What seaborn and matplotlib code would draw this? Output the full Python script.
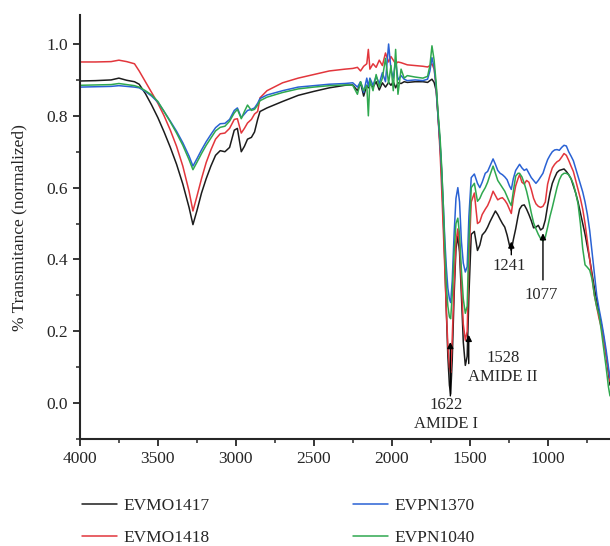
import pandas as pd
import seaborn as sns
import matplotlib
matplotlib.use("Agg")
import matplotlib.pyplot as plt
from matplotlib.ticker import MultipleLocator

# wavenumbers (cm-1), shared by all four spectra
wavenumber = [
    4000, 3900, 3800, 3750, 3700, 3650, 3620, 3580, 3540, 3500, 3460, 3420, 3380, 3340, 3300, 3275,
    3250, 3220, 3190, 3160, 3130, 3100, 3070, 3040, 3010, 2990, 2965, 2945, 2925, 2900, 2880, 2860,
    2845, 2800, 2700, 2600, 2500, 2400, 2300,
    2250, 2220, 2200, 2180, 2160, 2150, 2140, 2120, 2100, 2080, 2060, 2040, 2020, 2005, 1990, 1975,
    1960, 1940, 1920, 1900, 1850, 1800,
    1770, 1755, 1742, 1728, 1715, 1703, 1690, 1680, 1670, 1660, 1650, 1640, 1630, 1622, 1612, 1600,
    1588, 1576, 1565, 1553, 1541, 1528, 1516, 1505,
    1490, 1470, 1450, 1435, 1420, 1400, 1385, 1370, 1350, 1335, 1320, 1305, 1290, 1275, 1260, 1245,
    1233, 1220, 1205, 1190, 1180, 1165, 1150, 1135, 1120, 1105, 1090, 1075, 1060, 1045, 1030, 1015,
    1000, 985, 970, 955, 940, 925, 910, 895, 880, 865, 850, 835, 820, 805, 790, 775, 760, 745, 730,
    715, 700, 685, 670, 655, 640, 625, 610, 600,
]

evmo1417 = [
    0.897, 0.898, 0.900, 0.905, 0.899, 0.895, 0.888, 0.862, 0.830, 0.795, 0.755, 0.712, 0.665, 0.610, 0.545, 0.497,
    0.535, 0.585, 0.625, 0.660, 0.690, 0.703, 0.700, 0.712, 0.760, 0.765, 0.700, 0.715, 0.735, 0.740, 0.755, 0.790,
    0.812, 0.822, 0.840, 0.857, 0.868, 0.878, 0.885,
    0.886, 0.870, 0.892, 0.855, 0.885, 0.878, 0.890, 0.880, 0.895, 0.872, 0.892, 0.880, 0.893, 0.885, 0.895, 0.878,
    0.892, 0.890, 0.895, 0.893, 0.895, 0.895,
    0.893, 0.898, 0.902, 0.893, 0.870, 0.800, 0.720, 0.640, 0.530, 0.400, 0.260, 0.130, 0.050, 0.025, 0.120, 0.300,
    0.430, 0.465, 0.420, 0.300, 0.170, 0.105, 0.130, 0.300,
    0.470, 0.478, 0.425, 0.440, 0.468, 0.478, 0.490, 0.505, 0.522, 0.535, 0.525, 0.512, 0.500, 0.490, 0.468, 0.440,
    0.425, 0.455, 0.485, 0.520, 0.540, 0.550, 0.552, 0.540, 0.525, 0.508, 0.488, 0.490, 0.495, 0.482, 0.487, 0.510,
    0.550, 0.585, 0.612, 0.628, 0.642, 0.648, 0.650, 0.652, 0.645, 0.636, 0.625, 0.605, 0.585, 0.560, 0.530, 0.500,
    0.470, 0.435, 0.400, 0.360, 0.320, 0.285, 0.250, 0.218, 0.180, 0.135, 0.085, 0.050,
]

evmo1418 = [
    0.950, 0.950, 0.951, 0.955, 0.951, 0.945, 0.925, 0.895, 0.865, 0.835, 0.800, 0.760, 0.715, 0.660, 0.590, 0.535,
    0.575, 0.625, 0.670, 0.705, 0.735, 0.750, 0.752, 0.765, 0.790, 0.792, 0.752, 0.765, 0.780, 0.790, 0.805, 0.812,
    0.850, 0.870, 0.892, 0.905, 0.915, 0.925, 0.930,
    0.932, 0.935, 0.925, 0.938, 0.945, 0.985, 0.930, 0.945, 0.935, 0.955, 0.940, 0.975, 0.950, 0.965, 0.955, 0.945,
    0.950, 0.948, 0.945, 0.942, 0.940, 0.938,
    0.936, 0.940, 0.945, 0.930, 0.880, 0.800, 0.700, 0.600, 0.490, 0.380, 0.260, 0.160, 0.100, 0.085, 0.180, 0.330,
    0.450, 0.485, 0.440, 0.330, 0.220, 0.175, 0.200, 0.400,
    0.560, 0.585, 0.500, 0.505, 0.525, 0.540, 0.550, 0.565, 0.590, 0.578, 0.566, 0.570, 0.572, 0.565, 0.555, 0.540,
    0.528, 0.570, 0.605, 0.625, 0.636, 0.615, 0.610, 0.620, 0.615, 0.595, 0.570, 0.555, 0.548, 0.545, 0.548, 0.560,
    0.610, 0.635, 0.655, 0.665, 0.672, 0.676, 0.685, 0.695, 0.690, 0.676, 0.660, 0.645, 0.620, 0.595, 0.570, 0.540,
    0.500, 0.450, 0.400, 0.350, 0.300, 0.268, 0.235, 0.210, 0.175, 0.135, 0.090, 0.060,
]

evpn1370 = [
    0.880, 0.881, 0.882, 0.884, 0.882, 0.880, 0.878, 0.868, 0.855, 0.838, 0.812, 0.785, 0.757, 0.725, 0.688, 0.660,
    0.680, 0.705, 0.728, 0.748, 0.767, 0.778, 0.779, 0.790, 0.815, 0.822, 0.795, 0.805, 0.815, 0.818, 0.822, 0.835,
    0.848, 0.858, 0.870, 0.880, 0.884, 0.888, 0.890,
    0.892, 0.880, 0.895, 0.865, 0.905, 0.882, 0.905, 0.885, 0.910, 0.890, 0.920, 0.895, 1.000, 0.930, 0.905, 0.955,
    0.900, 0.912, 0.902, 0.898, 0.900, 0.898,
    0.902, 0.925, 0.962, 0.935, 0.880, 0.800, 0.725, 0.650, 0.560, 0.460, 0.380, 0.320, 0.290, 0.280, 0.340, 0.470,
    0.570, 0.600, 0.560, 0.450, 0.390, 0.365, 0.380, 0.520,
    0.628, 0.638, 0.612, 0.600, 0.615, 0.640, 0.645, 0.660, 0.680, 0.665, 0.648, 0.640, 0.636, 0.630, 0.622, 0.605,
    0.595, 0.625, 0.648, 0.658, 0.665, 0.655, 0.648, 0.652, 0.640, 0.628, 0.620, 0.612, 0.620, 0.630, 0.640, 0.660,
    0.678, 0.690, 0.700, 0.705, 0.706, 0.704, 0.712, 0.718, 0.716, 0.700, 0.688, 0.675, 0.655, 0.632, 0.610, 0.588,
    0.560, 0.525, 0.480, 0.420, 0.360, 0.300, 0.262, 0.228, 0.190, 0.148, 0.100, 0.070,
]

evpn1040 = [
    0.885, 0.886, 0.887, 0.890, 0.887, 0.884, 0.880, 0.870, 0.858, 0.840, 0.812, 0.783, 0.752, 0.718, 0.678, 0.650,
    0.670, 0.695, 0.718, 0.738, 0.758, 0.768, 0.771, 0.785, 0.808, 0.818, 0.792, 0.812, 0.830, 0.815, 0.818, 0.830,
    0.842, 0.852, 0.865, 0.875, 0.880, 0.884, 0.886,
    0.885, 0.860, 0.895, 0.870, 0.885, 0.800, 0.900, 0.870, 0.915, 0.880, 0.905, 0.960, 0.890, 0.940, 0.870, 0.985,
    0.860, 0.930, 0.905, 0.912, 0.908, 0.905,
    0.910, 0.940, 0.995, 0.955, 0.890, 0.810, 0.740, 0.660, 0.560, 0.440, 0.330, 0.270, 0.240, 0.235, 0.300, 0.420,
    0.500, 0.515, 0.470, 0.370, 0.290, 0.250, 0.270, 0.450,
    0.600, 0.612, 0.562, 0.570, 0.585, 0.600, 0.615, 0.635, 0.660, 0.640, 0.620, 0.610, 0.600, 0.590, 0.575, 0.560,
    0.550, 0.590, 0.632, 0.640, 0.640, 0.630, 0.612, 0.590, 0.562, 0.530, 0.502, 0.485, 0.470, 0.458, 0.452, 0.462,
    0.490, 0.520, 0.545, 0.572, 0.600, 0.622, 0.635, 0.640, 0.640, 0.636, 0.625, 0.610, 0.585, 0.555, 0.500, 0.430,
    0.385, 0.378, 0.370, 0.345, 0.300, 0.268, 0.245, 0.200, 0.150, 0.100, 0.045, 0.020,
]

samples = ["EVMO1417", "EVMO1418", "EVPN1370", "EVPN1040"]
colors = ["#1c1c1c", "#e2363c", "#2a62d4", "#2fa84f"]

# peak markers: label, arrow x, arrow tail y, arrow tip y
peaks = [
    ("1622\nAMIDE I", 1624, 0.02, 0.17),
    ("1528\nAMIDE II", 1506, 0.11, 0.19),
    ("1241", 1233, 0.413, 0.45),
    ("1077", 1030, 0.343, 0.473),
]

frames = []
for name, vals in zip(samples, [evmo1417, evmo1418, evpn1370, evpn1040]):
    frames.append(pd.DataFrame({"wn": wavenumber, "T": vals, "sample": name}))
df = pd.concat(frames, ignore_index=True)

sns.set_style("ticks")
plt.rcParams["font.family"] = ["Liberation Serif", "DejaVu Serif"]

fig = plt.figure(figsize=(6.1, 5.46), dpi=100)
ax = fig.add_axes([0.131, 0.196, 0.869, 0.776])

sns.lineplot(data=df, x="wn", y="T", hue="sample", hue_order=samples,
             palette=dict(zip(samples, colors)), estimator=None, sort=True,
             linewidth=1.1, ax=ax)

ax.set_xlim(4000, 600)
ax.set_ylim(-0.1, 1.08)
ax.xaxis.set_major_locator(MultipleLocator(500))
ax.xaxis.set_minor_locator(MultipleLocator(250))
ax.yaxis.set_major_locator(MultipleLocator(0.2))
ax.yaxis.set_minor_locator(MultipleLocator(0.1))
ax.tick_params(which="major", direction="out", length=5, width=1.3, labelsize=12.5)
ax.tick_params(which="minor", direction="out", length=3, width=1.1)
ax.yaxis.set_major_formatter(matplotlib.ticker.FormatStrFormatter("%.1f"))
for s in ["top", "right"]:
    ax.spines[s].set_visible(False)
for s in ["left", "bottom"]:
    ax.spines[s].set_linewidth(1.5)
ax.set_xlabel("")
ax.set_ylabel("% Transmitance (normalized)", fontsize=12.5, labelpad=14)

# arrows and peak labels
text_pos = {
    "1622\nAMIDE I": (1649, -0.031),
    "1528\nAMIDE II": (1285, 0.100),
    "1241": (1244, 0.381),
    "1077": (1041, 0.300),
}
for label, x, y0, y1 in peaks:
    ax.annotate("", xy=(x, y1), xytext=(x, y0),
                arrowprops=dict(arrowstyle="-|>", color="black", lw=1.0,
                                mutation_scale=9, shrinkA=0, shrinkB=0))
    tx, ty = text_pos[label]
    ax.text(tx, ty, label, ha="center", va="center", fontsize=12,
            linespacing=1.25)

handles, labels = ax.get_legend_handles_labels()
ax.get_legend().remove()
fig.legend(handles, labels, loc="upper left", bbox_to_anchor=(0.123, 0.100),
           ncol=2, frameon=False, fontsize=12.5, handlelength=2.0,
           handletextpad=0.4, columnspacing=8.25, labelspacing=0.9,
           borderaxespad=0.0)

plt.savefig("out.png", dpi=100)
